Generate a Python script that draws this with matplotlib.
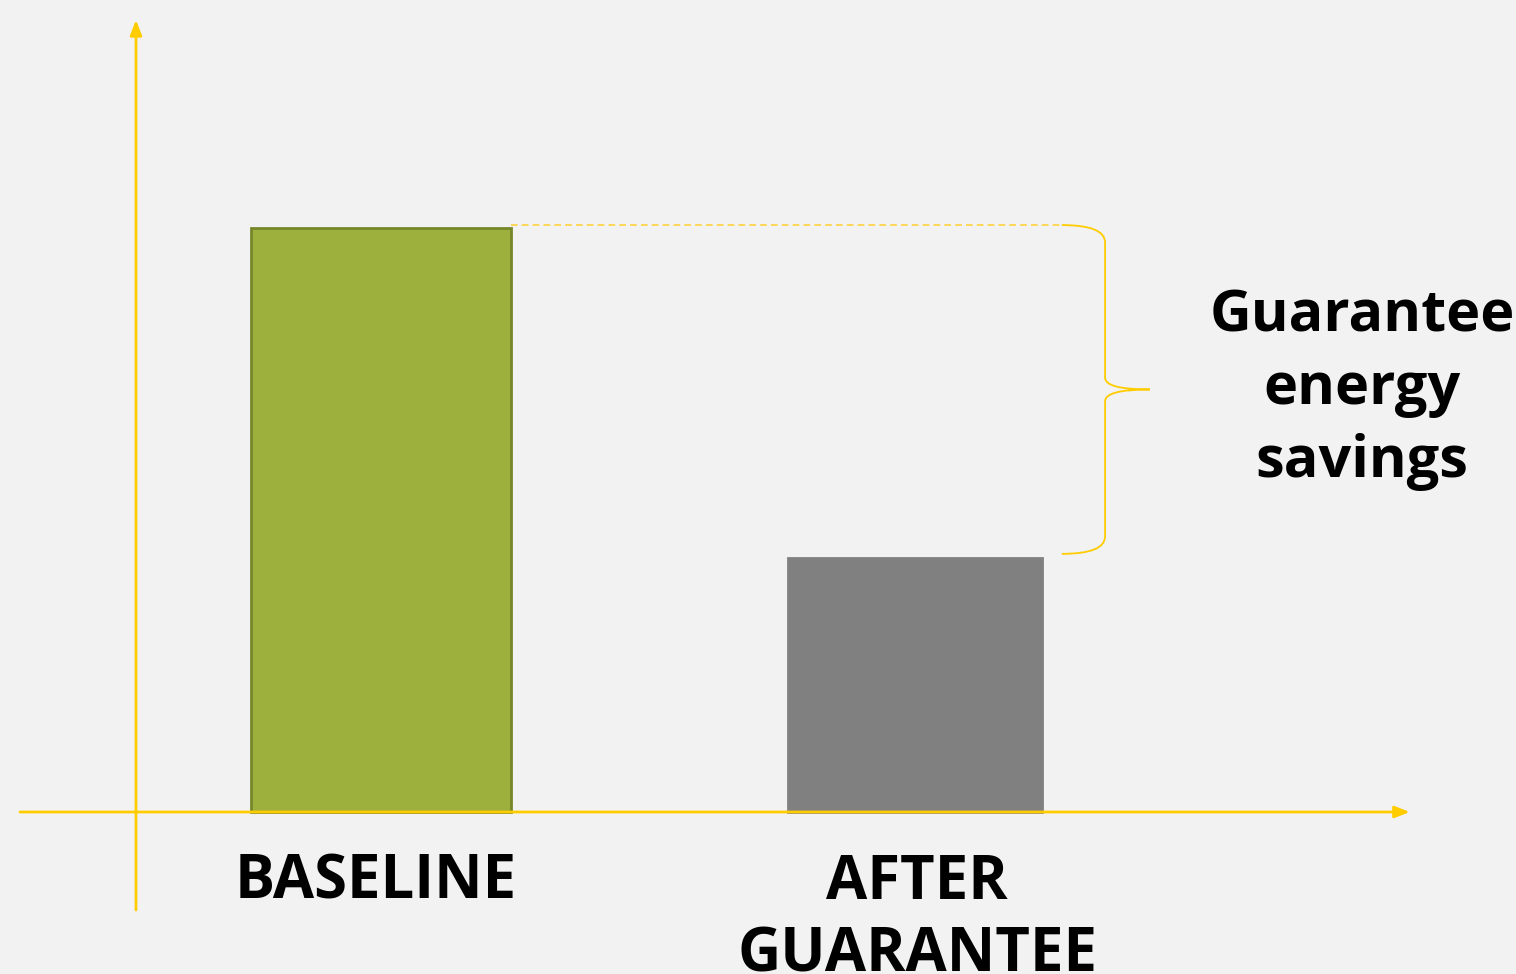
import matplotlib.pyplot as plt
from matplotlib.path import Path
from matplotlib.patches import PathPatch

# data
categories = ["BASELINE", "AFTER\nGUARANTEE"]
values = [100, 43.5]
bar_colors = ["#9db03d", "#808080"]
edge_colors = ["#76872a", "#808080"]
brace_label = "Guarantee\nenergy\nsavings"

yellow = "#ffcc00"
bg = "#f2f2f2"

fig = plt.figure(figsize=(15.16, 9.74), dpi=100, facecolor=bg)
ax = fig.add_axes([0, 0, 1, 1])
ax.set_facecolor(bg)
ax.set_xlim(-0.7135, 2.1255)
ax.set_ylim(-27.74, 139.04)
ax.axis("off")

x = [0, 1]
ax.bar(x, values, width=[0.487, 0.476], color=bar_colors,
       edgecolor=edge_colors, linewidth=2, zorder=2)

# axis arrows
ax.annotate("", xy=(0.930, 0), xytext=(0.0132, 0),
            xycoords=("axes fraction", "data"),
            arrowprops=dict(arrowstyle="-|>,head_length=0.9,head_width=0.35",
                            color=yellow, lw=2, shrinkA=0, shrinkB=0))
ax.annotate("", xy=(0.0897, 0.9795), xytext=(0.0897, 0.0657),
            xycoords="axes fraction",
            arrowprops=dict(arrowstyle="-|>,head_length=0.9,head_width=0.35",
                            color=yellow, lw=2, shrinkA=0, shrinkB=0))

# dashed line from baseline top
top = values[0] + 0.5
ax.plot([x[0] + 0.2435, 1.275], [top, top], color="#ffd23f", lw=1.2,
        ls=(0, (4, 2.5)), zorder=1)

# curly brace
y0, y1 = values[1] + 0.7, top
ym = (y0 + y1) / 2
xs, xv, xt = 1.275, 1.356, 1.44
verts = [(xs, y1), (xv, y1), (xv, y1 - 3),
         (xv, ym + 2), (xv, ym), (xt, ym),
         (xv, ym), (xv, ym - 2),
         (xv, y0 + 3), (xv, y0), (xs, y0)]
codes = [Path.MOVETO, Path.CURVE3, Path.CURVE3,
         Path.LINETO, Path.CURVE3, Path.CURVE3,
         Path.CURVE3, Path.CURVE3,
         Path.LINETO, Path.CURVE3, Path.CURVE3]
ax.add_patch(PathPatch(Path(verts, codes), fill=False, edgecolor=yellow, lw=1.3))

ax.text(1.8375, ym, brace_label, ha="center", va="center", fontsize=41.5,
        fontweight="bold", family="Open Sans", linespacing=1.33)

for xi, lab in zip(x, categories):
    ax.text(xi - 0.01 if xi == 0 else xi + 0.004, -7.0, lab, ha="center", va="top",
            fontsize=43, fontweight="bold", family="Open Sans", linespacing=1.25)

fig.savefig("out.png", dpi=100, facecolor=bg)
